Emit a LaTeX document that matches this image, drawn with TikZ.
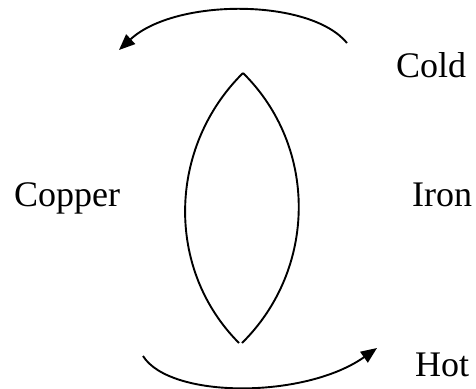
\documentclass[tikz,border=0pt]{standalone}
\usepackage{fontspec}
\setmainfont{Liberation Serif}
\usetikzlibrary{arrows.meta}
\tikzset{
  lbl/.style={inner sep=0pt, anchor=base west, font=\fontsize{36}{40}\selectfont},
  curve/.style={line width=1.9pt},
  arr/.style={curve, -{Triangle[length=16pt,width=13pt]}}
}
\begin{document}
\begin{tikzpicture}[x=1pt,y=-1pt]
\useasboundingbox (0,0) rectangle (476,388);
% labels
\node[lbl] (cold) at (396,77) {Cold};
\node[lbl] (copper) at (14,206) {Copper};
\node[lbl] (iron) at (412,206) {Iron};
\node[lbl] (hot) at (415,376) {Hot};
% coordinates
\coordinate (ts) at (347,43);
\coordinate (te) at (119,50);
\coordinate (bs) at (143,356);
\coordinate (be) at (377,348);
\coordinate (lt) at (243,73);
\coordinate (lbl) at (239,343);
\coordinate (lbr) at (242,343);
% arrows
\draw[arr] (ts) .. controls (310,-2) and (175,-2) .. (te);
\draw[arr] (bs) .. controls (170,399) and (305,399) .. (be);
% lens
\draw[curve] (lt) .. controls (168,147) and (165,269) .. (lbl);
\draw[curve] (lt) .. controls (318,147) and (317,269) .. (lbr);
\end{tikzpicture}
\end{document}
